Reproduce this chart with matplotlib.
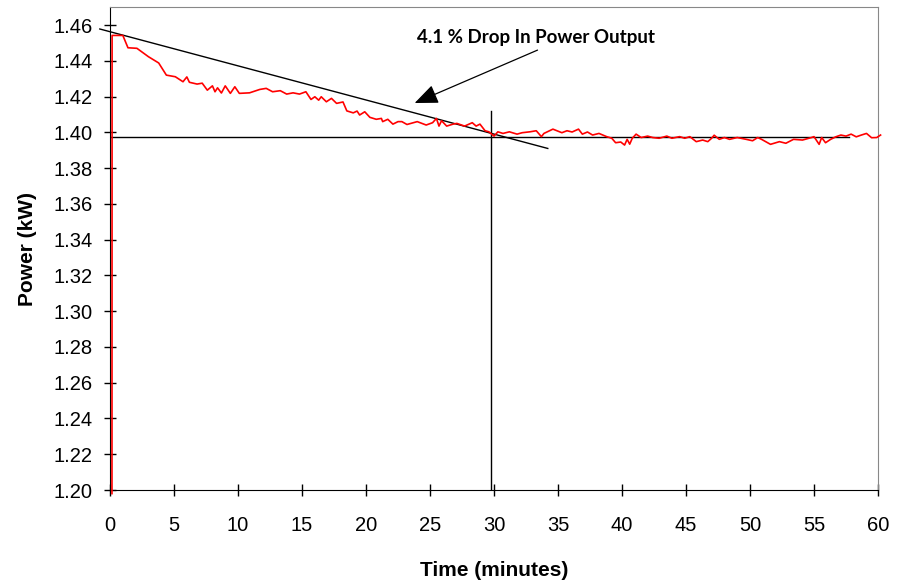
import numpy as np
import matplotlib.pyplot as plt

# Power output trace (minutes, kW)
time_min = [0.15, 0.16, 0.3, 1.0, 1.4, 2.1, 3.0, 3.8, 4.4, 5.1, 5.7, 6.0, 6.2, 6.8,
            7.2, 7.6, 8.0, 8.2, 8.4, 8.7, 9.0, 9.4, 9.75, 10.1, 10.9, 11.7, 12.2,
            12.7, 13.3, 13.8, 14.3, 14.8, 15.3, 15.7, 16.0, 16.3, 16.5, 16.9, 17.3,
            17.7, 18.2, 18.5, 19.0, 19.3, 19.5, 19.9, 20.3, 20.8, 21.2, 21.3, 21.7,
            22.1, 22.5, 22.8, 23.2, 24.0, 24.7, 25.2, 25.5, 25.7, 25.9, 26.3, 26.8,
            27.1, 27.7, 28.3, 28.6, 28.9, 29.3, 29.6, 30.0, 30.3, 30.7, 31.2, 31.8,
            32.2, 32.8, 33.3, 33.7, 33.9, 34.6, 35.3, 35.7, 36.1, 36.6, 36.9, 37.3,
            37.7, 38.2, 38.8, 39.2, 39.5, 39.9, 40.2, 40.4, 40.6, 40.8, 41.1, 41.5,
            42.0, 42.4, 42.9, 43.5, 43.9, 44.5, 44.9, 45.3, 45.8, 46.3, 46.7, 47.0,
            47.2, 47.6, 48.0, 48.4, 49.0, 49.7, 50.2, 50.6, 50.9, 51.6, 52.3, 52.8,
            53.4, 54.1, 54.8, 55.0, 55.4, 55.6, 55.9, 56.3, 56.7, 57.1, 57.5, 57.9,
            58.3, 58.7, 59.1, 59.5, 59.9, 60.2]
power_kw = [1.198, 1.4542, 1.4542, 1.4542, 1.4473, 1.4470, 1.4423, 1.4388, 1.4320,
            1.4311, 1.4283, 1.4310, 1.4280, 1.4270, 1.4275, 1.4236, 1.4260, 1.4227,
            1.4249, 1.4220, 1.4260, 1.4218, 1.4255, 1.4218, 1.4221, 1.4240, 1.4246,
            1.4227, 1.4233, 1.4214, 1.4221, 1.4214, 1.4227, 1.4184, 1.4199, 1.4180,
            1.4199, 1.4171, 1.4190, 1.4162, 1.4170, 1.4120, 1.4109, 1.4119, 1.4097,
            1.4115, 1.4084, 1.4073, 1.4078, 1.4060, 1.4073, 1.4046, 1.4060, 1.4060,
            1.4044, 1.4060, 1.4041, 1.4054, 1.4078, 1.4035, 1.4065, 1.4035, 1.4046,
            1.4050, 1.4035, 1.4054, 1.4035, 1.4046, 1.4009, 1.4003, 1.3979, 1.4003,
            1.3994, 1.4003, 1.3990, 1.3998, 1.4003, 1.4009, 1.3976, 1.3994, 1.4018,
            1.3998, 1.4009, 1.4002, 1.4018, 1.3990, 1.4002, 1.3985, 1.3994, 1.3976,
            1.3967, 1.3942, 1.3946, 1.3929, 1.3961, 1.3934, 1.3967, 1.3990, 1.3971,
            1.3979, 1.3971, 1.3967, 1.3979, 1.3967, 1.3976, 1.3967, 1.3976, 1.3948,
            1.3957, 1.3948, 1.3967, 1.3984, 1.3961, 1.3971, 1.3961, 1.3971, 1.3961,
            1.3953, 1.3971, 1.3961, 1.3933, 1.3948, 1.3939, 1.3961, 1.3957, 1.3971,
            1.3976, 1.3933, 1.3971, 1.3942, 1.3961, 1.3975, 1.3985, 1.3979, 1.3990,
            1.3975, 1.3985, 1.3994, 1.3970, 1.3971, 1.3985]

# Construction lines
trend_t = [-0.8, 34.2]
trend_p = [1.4578, 1.391]
steady_t = [0, 57.7]
steady_p = [1.3974, 1.3974]
marker_t = [29.8, 29.8]
marker_p = [1.20, 1.412]

# annotation arrow: tail and tip
arrow_tail = (33.4, 1.446)
arrow_tip = (23.8, 1.4164)

x_ticks = list(range(0, 61, 5))
y_ticks = [1.20 + 0.02 * i for i in range(14)]

fig = plt.figure(figsize=(9.02, 5.83), dpi=100)
ax = fig.add_axes([0.122, 0.1595, 0.8514, 0.8285])

ax.plot(time_min, power_kw, color='#ff0000', lw=1.2, clip_on=False, zorder=3)
ax.plot(trend_t, trend_p, color='black', lw=1.0, clip_on=False)
ax.plot(steady_t, steady_p, color='black', lw=1.0)
ax.plot(marker_t, marker_p, color='black', lw=1.0)

ax.annotate('', xy=arrow_tip, xytext=arrow_tail,
            arrowprops=dict(arrowstyle='-|>,head_length=0.6,head_width=0.25',
                            color='black', lw=0.9, mutation_scale=24,
                            shrinkA=0, shrinkB=0))
ax.text(33.3, 1.4533, '4.1 % Drop In Power Output', ha='center', va='center',
        fontsize=13.5, fontweight='bold', family='Lato')

ax.set_xlim(0, 60)
ax.set_ylim(1.20, 1.4701)
ax.set_xticks(x_ticks)
ax.set_yticks(y_ticks)
ax.set_yticklabels([f'{v:.2f}' for v in y_ticks])

ax.tick_params(direction='inout', length=9, width=1, labelsize=14.5)
ax.tick_params(axis='x', pad=14)
ax.tick_params(axis='y', pad=8)
for lbl in ax.get_xticklabels() + ax.get_yticklabels():
    lbl.set_family('Liberation Sans')

ax.spines['left'].set_color('black')
ax.spines['bottom'].set_color('black')
ax.spines['top'].set_color('#888888')
ax.spines['right'].set_color('#888888')

ax.set_xlabel('Time (minutes)', fontsize=15, fontweight='bold', family='Liberation Sans', labelpad=19)
ax.set_ylabel('Power (kW)', fontsize=15, fontweight='bold', family='Liberation Sans', labelpad=12)

fig.savefig('out.png', dpi=100)
